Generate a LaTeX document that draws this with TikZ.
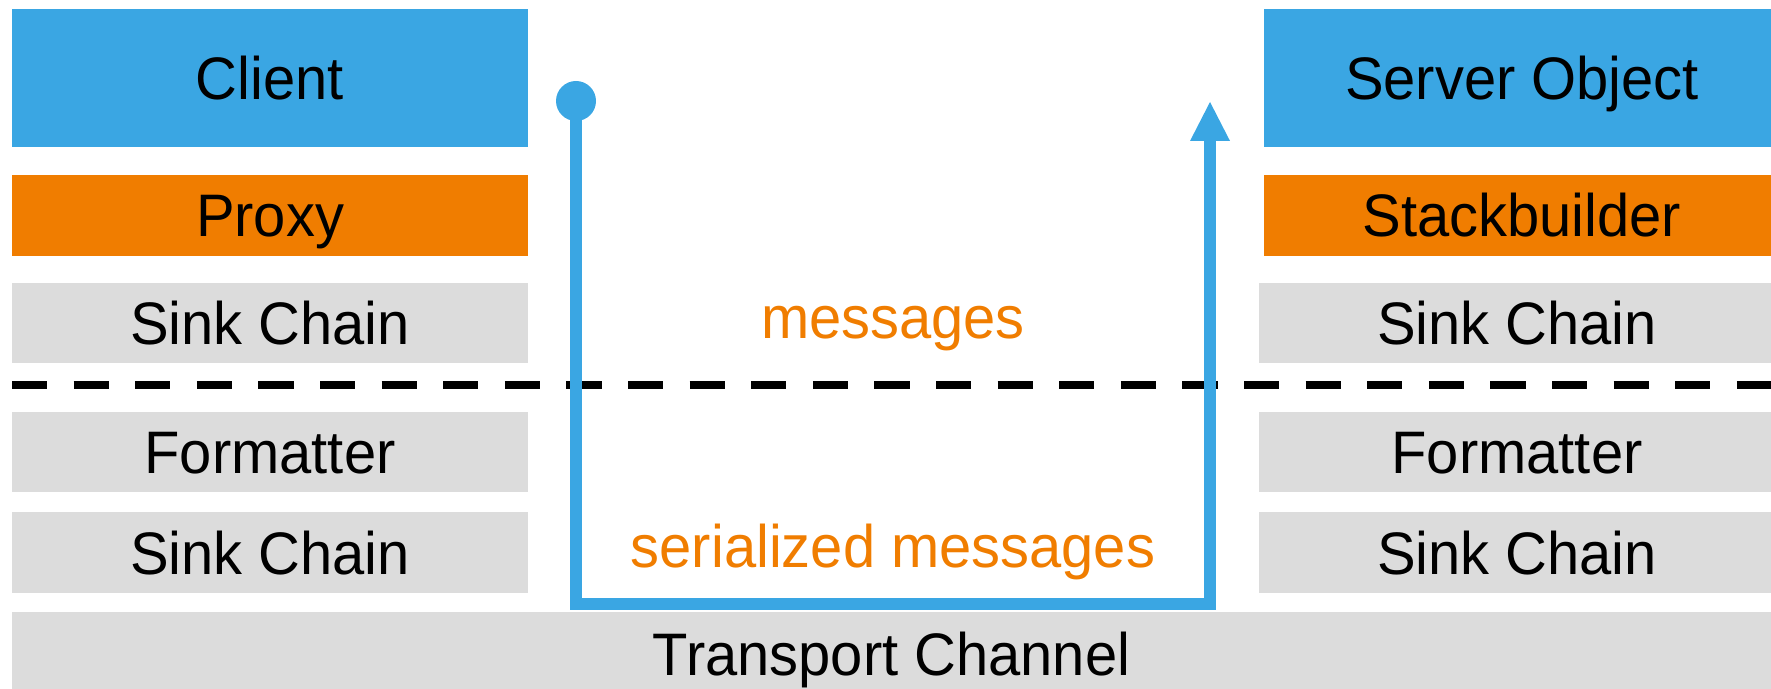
\documentclass[tikz,border=0pt]{standalone}
\usepackage{fontspec}
\setmainfont[FakeStretch=0.965]{Liberation Sans}
\usetikzlibrary{arrows.meta}
\definecolor{layerblue}{RGB}{58,166,227}
\definecolor{layerorange}{RGB}{240,125,0}
\definecolor{layergray}{RGB}{220,220,220}
\begin{document}
\begin{tikzpicture}[x=0.5pt, y=-0.5pt,
  lbl/.style={font=\fontsize{30pt}{36pt}\selectfont, inner sep=0pt,
              text height=21.5pt, text depth=0pt},
  layer/.style={lbl, minimum width=258pt, text=black},
  toplayer/.style={layer, fill=layerblue, minimum height=69pt},
  midlayer/.style={layer, fill=layerorange, minimum height=40.5pt},
  lowlayer/.style={layer, fill=layergray, minimum height=40pt},
  msglabel/.style={lbl, text=layerorange},
  flow/.style={draw=layerblue, line width=6pt, line join=miter,
               -{Triangle[length=19.5pt, width=20pt, line width=0pt]}},
  divider/.style={draw=black, line width=4pt, dash pattern=on 17.6pt off 13.2pt}
]
\useasboundingbox (0,0) rectangle (1771,689);

% client side stack
\node[toplayer] (client)  at (270,78)    {Client};
\node[midlayer] (proxy)   at (270,215.5) {Proxy};
\node[lowlayer] (csink1)  at (270,323)   {Sink Chain};
\node[lowlayer] (cform)   at (270,452)   {Formatter};
\node[lowlayer, minimum height=40.5pt] (csink2) at (270,552.5) {Sink Chain};

% server side stack
\node[toplayer] (server)  at (1522,78)    {Server Object};
\node[midlayer] (stack)   at (1522,215.5) {Stackbuilder};
\node[lowlayer] (ssink1)  at (1517,323)   {Sink Chain};
\node[lowlayer] (sform)   at (1517,452)   {Formatter};
\node[lowlayer, minimum height=40.5pt] (ssink2) at (1517,552.5) {Sink Chain};

% shared transport
\node[lowlayer, minimum width=879.5pt, minimum height=41.5pt] (transport)
  at (891.5,653.5) {Transport Channel};

% boundary between message and serialized levels
\coordinate (divl) at (12,385);
\coordinate (divr) at (1771,385);
\draw[divider] (divl) -- (divr);

% labels
\node[msglabel] (msg)    at (893,317.5) {messages};
\node[msglabel] (sermsg) at (893,545.5) {serialized messages};

% message path through the transport
\coordinate (src) at (576,101);
\coordinate (dst) at (1210,102);
\coordinate (floor) at (0,604);
\fill[layerblue] (src) circle[radius=10pt];
\draw[flow] (src) -- (src |- floor) -- (dst |- floor) -- (dst);
\end{tikzpicture}
\end{document}
